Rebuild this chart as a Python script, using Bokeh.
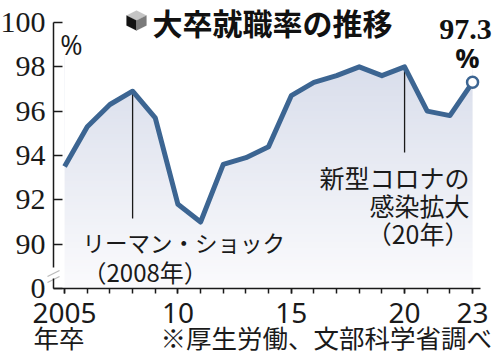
import numpy as np
from bokeh.plotting import figure
from bokeh.models import Range1d, FixedTicker, Label, PolyAnnotation, BoxAnnotation
from bokeh.embed import file_html
from bokeh.resources import INLINE

# ---- data ----
years = list(range(2005, 2024))
rates = [93.5, 95.3, 96.3, 96.9, 95.7, 91.8, 91.0, 93.6, 93.9, 94.4,
         96.7, 97.3, 97.6, 98.0, 97.6, 98.0, 96.0, 95.8, 97.3]
x_ticks = [2005, 2010, 2015, 2020, 2023]
x_tick_labels = ["2005", "10", "15", "20", "23"]
y_ticks = [88, 90, 92, 94, 96, 98, 100]
y_tick_labels = ["0", "90", "92", "94", "96", "98", "100"]
event_years = [2008, 2020]

title_text = "大卒就職率の推移"
last_label = "97.3"
lehman_lines = ["リーマン・ショック", "（2008年）"]
covid_lines = ["新型コロナの", "感染拡大", "（20年）"]
x_unit = "年卒"
source_note = "※厚生労働、文部科学省調べ"

# ---- geometry (window pixel -> data) ----
W, H = 500, 355
AX0, AX1 = 2004.51, 2023.35   # x extent of the axis line
AY0, AY1 = 88.0, 100.0        # y extent of the axis line
FL, FR, FT, FB = 53, 480, 22, 288


def px(wx):
    return AX0 + (wx - FL) * (AX1 - AX0) / (FR - FL)


def py(wy):
    return AY1 - (wy - FT) * (AY1 - AY0) / (FB - FT)


LINE = "#3c6592"
INK = "#1a1a1a"
JP = "Noto Sans CJK JP"
NUM = "Liberation Sans Narrow"

p = figure(width=W, height=H, x_range=Range1d(px(0), px(W)), y_range=Range1d(py(H), py(0)),
           output_backend="svg", toolbar_location=None, min_border=0)
p.grid.visible = False
p.outline_line_color = None
p.background_fill_color = "white"
p.border_fill_color = "white"

# gradient fill under the line
n = 80
top = np.array([216, 221, 235], dtype=float)
bot = np.array([251, 251, 253], dtype=float)
t = np.linspace(0, 1, n)[:, None]
cols = bot + (top - bot) * t
img = np.empty((n, 1), dtype=np.uint32)
view = img.view(dtype=np.uint8).reshape((n, 1, 4))
view[:, 0, 0] = cols[:, 0].astype(np.uint8)
view[:, 0, 1] = cols[:, 1].astype(np.uint8)
view[:, 0, 2] = cols[:, 2].astype(np.uint8)
view[:, 0, 3] = 255
p.image_rgba(image=[img], x=years[0], y=AY0, dw=years[-1] - years[0], dh=max(rates) + 0.5 - AY0)
# white mask above the line
p.varea(x=years, y1=rates, y2=AY1 + 0.5, fill_color="white")

# event pointer lines
r08 = rates[years.index(event_years[0])]
r20 = rates[years.index(event_years[1])]
p.segment(x0=[event_years[0], event_years[1]], y0=[r08, r20],
          x1=[event_years[0], event_years[1]], y1=[py(218), py(152)],
          line_color=INK, line_width=1.3)

# data line
p.line(years, rates, line_color=LINE, line_width=5, line_join="round")
p.scatter([years[-1]], [rates[-1]], size=11, fill_color="white", line_color=LINE, line_width=2.5)

# axes (drawn at fixed locations inside the full-canvas frame)
ya = p.yaxis[0]
ya.fixed_location = AX0
ya.bounds = (AY0, AY1)
ya.ticker = FixedTicker(ticks=y_ticks)
ya.major_label_overrides = {k: v for k, v in zip(y_ticks, y_tick_labels)}
ya.major_tick_in = 9
ya.major_tick_out = 0
ya.minor_tick_line_color = None
ya.major_label_standoff = 8
ya.axis_line_width = 1.5
ya.axis_line_color = INK
ya.major_tick_line_width = 1.5
ya.major_tick_line_color = INK
ya.major_label_text_font = NUM
ya.major_label_text_font_size = "30px"
ya.major_label_text_color = INK

xa = p.xaxis[0]
xa.fixed_location = AY0
xa.bounds = (AX0, AX1)
xa.ticker = FixedTicker(ticks=x_ticks, minor_ticks=years)
xa.major_label_overrides = {k: v for k, v in zip(x_ticks, x_tick_labels)}
xa.major_tick_in = 0
xa.major_tick_out = 5
xa.minor_tick_in = 0
xa.minor_tick_out = 5
xa.axis_line_width = 1.5
xa.axis_line_color = INK
xa.major_tick_line_width = 1.5
xa.minor_tick_line_width = 1.5
xa.major_tick_line_color = INK
xa.minor_tick_line_color = INK
xa.major_label_standoff = 9
xa.major_label_text_font = "Noto Sans"
xa.major_label_text_font_size = "28px"
xa.major_label_text_color = INK


def clabel(x, y, text, **kw):
    p.add_layout(Label(x=x, y=y, x_units="canvas", y_units="canvas", text=text, **kw))


# axis break
p.add_layout(BoxAnnotation(left=49, right=57, top=267, bottom=278,
                           left_units="canvas", right_units="canvas",
                           top_units="canvas", bottom_units="canvas",
                           fill_color="white", fill_alpha=1, line_color=None))
for dy in (0, 6):
    p.add_layout(PolyAnnotation(xs=[47, 59], ys=[276 + dy, 270 + dy],
                                xs_units="canvas", ys_units="canvas",
                                fill_color=None, line_color=INK, line_width=1.3))

# title with cube icon
cx, cy, r = 136, 20, 10
h = r * 0.5
cube = [
    ([cx, cx + r, cx, cx - r], [cy - r, cy - h, cy, cy - h], "#c4c4c4"),
    ([cx - r, cx, cx, cx - r], [cy - h, cy, cy + r, cy + h], "#111111"),
    ([cx, cx + r, cx + r, cx], [cy, cy - h, cy + h, cy + r], "#7a7a7a"),
]
for xs, ys, c in cube:
    p.add_layout(PolyAnnotation(xs=xs, ys=ys, xs_units="canvas", ys_units="canvas",
                                fill_color=c, fill_alpha=1, line_color=c, line_width=0.5))

clabel(152, 21, title_text, text_font=JP, text_font_style="bold",
       text_font_size="30px", text_color="#111111", text_baseline="middle", text_align="left")

# unit
clabel(71, 44, "%", text_font="Open Sans", text_font_size="27px",
       text_color=INK, text_baseline="middle", text_align="center")

# last value
clabel(465, 29, last_label, text_font=NUM, text_font_style="bold",
       text_font_size="30px", text_color="#111111", text_baseline="middle", text_align="center")
clabel(467, 57, "%", text_font="Open Sans", text_font_style="bold",
       text_font_size="27px", text_color="#111111", text_baseline="middle", text_align="center")

# event notes
lehman_sizes = ["22.5px", "24px"]
for i, s in enumerate(lehman_lines):
    clabel(82, 241 + 30 * i, s, text_font=JP, text_font_size=lehman_sizes[i],
           text_color=INK, text_baseline="middle", text_align="left")
for i, s in enumerate(covid_lines):
    clabel(469, 176 + 28 * i, s, text_font=JP, text_font_size="25px",
           text_color=INK, text_baseline="middle", text_align="right")

# bottom notes
clabel(33, 336, x_unit, text_font=JP, text_font_size="25.5px",
       text_color=INK, text_baseline="middle", text_align="left")
clabel(160, 336, source_note, text_font=JP, text_font_size="25.5px",
       text_color=INK, text_baseline="middle", text_align="left")

open("out.html", "w").write(file_html(p, INLINE))
